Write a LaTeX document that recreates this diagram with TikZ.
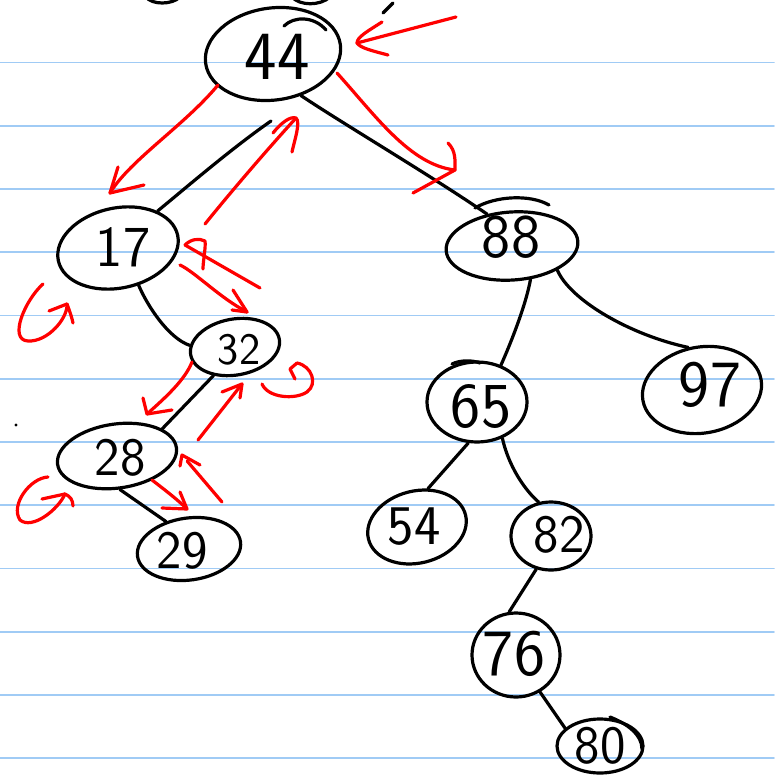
\documentclass[tikz,border=0pt]{standalone}
\usepackage{fontspec}
\usetikzlibrary{shapes.geometric}
\definecolor{ruled}{RGB}{160,203,245}
\definecolor{ink}{RGB}{0,0,0}
\definecolor{pen}{RGB}{255,0,0}
\begin{document}
\begin{tikzpicture}[x=1pt,y=-1pt,line cap=round,line join=round,
  tnode/.style={ellipse,draw=ink,line width=3.2pt,inner sep=0pt},
  digit/.style={font=\sffamily\fontsize{#1}{#1}\selectfont,inner sep=0pt},
  edge/.style={draw=ink,line width=3.2pt},
  redpen/.style={draw=pen,line width=3.2pt},
  rule/.style={draw=ruled,line width=1.8pt}]
\fill[white] (0,0) rectangle (774,776);
\useasboundingbox (0,0) rectangle (774,776);
\foreach \k in {0,...,11} \draw[rule] (0,{62.5+63.25*\k}) -- (774,{62.5+63.25*\k});

% tree nodes
\node[tnode,rotate=8,minimum width=136pt,minimum height=92pt] (n44) at (273,54) {};
\node[tnode,rotate=12,minimum width=122pt,minimum height=80pt] (n17) at (118,248) {};
\node[tnode,rotate=10,minimum width=90pt,minimum height=56pt] (n32) at (235,347) {};
\node[tnode,rotate=8,minimum width=120pt,minimum height=64pt] (n28) at (117,456) {};
\node[tnode,rotate=8,minimum width=104pt,minimum height=62pt] (n29) at (189,549) {};
\node[tnode,rotate=4,minimum width=132pt,minimum height=68pt] (n88) at (512,246) {};
\node[tnode,minimum width=100pt,minimum height=80pt] (n65) at (477,402) {};
\node[tnode,rotate=10,minimum width=120pt,minimum height=86pt] (n97) at (702,390) {};
\node[tnode,rotate=14,minimum width=100pt,minimum height=72pt] (n54) at (417,527) {};
\node[tnode,minimum width=80pt,minimum height=68pt] (n82) at (551,536) {};
\node[tnode,minimum width=88pt,minimum height=84pt] (n76) at (516,655) {};
\node[tnode,minimum width=86pt,minimum height=54pt] (n80) at (600,746) {};

% overlapping pen strokes where the ovals were closed
\draw[edge] (284,26) .. controls (294,16) and (314,16) .. (326,30);
\draw[edge] (475,208) .. controls (495,196) and (530,194) .. (549,205);
\draw[edge] (452,364) .. controls (460,360) and (472,360) .. (480,363);
\draw[edge] (610,717) .. controls (628,724) and (642,735) .. (642,749);

% digits
\node[digit=69] (t44) at (277,57) {44};
\node[digit=58] (t17) at (123,247) {17};
\node[digit=45] (t32) at (239,350) {32};
\node[digit=54] (t28) at (120,458) {28};
\node[digit=54] (t29) at (182,551) {29};
\node[digit=62] (t88) at (511,237) {88};
\node[digit=64] (t65) at (481,407) {65};
\node[digit=66] (t97) at (710,385) {97};
\node[digit=56] (t54) at (414,527) {54};
\node[digit=54] (t82) at (559,535) {82};
\node[digit=66] (t76) at (514,654) {76};
\node[digit=54] (t80) at (600,746) {80};

% black edges
\coordinate (e17s) at (271,121);
\draw[edge] (n44.-64) .. controls (345,125) and (430,175) .. (n88.124);
\draw[edge] (e17s) .. controls (235,146) and (195,180) .. (n17.31);
\draw[edge] (n17.-73) .. controls (147,305) and (168,338) .. (n32.168);
\draw[edge] (n32.-137) -- (n28.23);
\draw[edge] (n28.-93) -- (n29.122);
\draw[edge] (n88.-65) .. controls (526,305) and (510,345) .. (n65.57);
\draw[edge] (n88.-32) .. controls (570,300) and (630,335) .. (n97.98);
\draw[edge] (n65.-102) -- (n54.60);
\draw[edge] (n65.-55) .. controls (510,472) and (530,495) .. (n82.110);
\draw[edge] (n82.-114) -- (n76.99);
\draw[edge] (n76.-57) -- (n80.153);

% stray ink
\fill[ink] (16,425) circle (1.6pt);
\draw[edge] (383,13) -- (393,3);
\draw[edge] (146,-3) .. controls (152,5) and (172,5) .. (180,-3);
\draw[edge] (292,-3) .. controls (300,6) and (320,6) .. (330,-3);

% red traversal arrows
\coordinate (a1s) at (456,17);  \coordinate (a1t) at (357,43);
\draw[redpen] (a1s) -- (a1t);
\draw[redpen] (a1t) ++(25,-21) .. controls +(-14,9) and +(0,-6) .. (a1t) .. controls +(3,5) and +(-15,-4) .. +(31,12);

\coordinate (a2s) at (218,85);  \coordinate (a2t) at (110,193);
\draw[redpen] (a2s) .. controls (185,125) and (130,160) .. (a2t);
\draw[redpen] (a2t) ++(8,-26) -- (a2t) -- +(34,-8);

\coordinate (a3s) at (205,224); \coordinate (a3t) at (296,118);
\draw[redpen] (a3s) .. controls (230,193) and (265,152) .. (a3t);
\draw[redpen] (a3t) ++(-23,15) .. controls +(8,-10) and +(-6,-2) .. (a3t) .. controls +(5,4) and +(2,-10) .. +(-4,34);

\coordinate (a4s) at (337,73);  \coordinate (a4t) at (455,170);
\draw[redpen] (a4s) .. controls (375,115) and (410,165) .. (a4t);
\draw[redpen] (a4t) ++(-7,-27) .. controls +(8,8) and +(0,-10) .. (a4t) -- +(-42,23);

\coordinate (a5s) at (260,288); \coordinate (a5t) at (185,245);
\draw[redpen] (a5s) -- (a5t);
\draw[redpen] (a5t) .. controls +(6,-6) and +(-6,-3) .. ++(20,-4) .. controls +(1,6) and +(0,-8) .. +(-2,28);

\coordinate (a6s) at (180,265); \coordinate (a6t) at (247,312);
\draw[redpen] (a6s) .. controls (195,272) and (220,298) .. (a6t);
\draw[redpen] (a6t) ++(-14,-22) -- (a6t) -- +(-15,-2);

\coordinate (a7s) at (43,284);  \coordinate (a7t) at (67,304);
\draw[redpen] (a7s) .. controls (25,300) and (8,340) .. (28,341) .. controls (48,342) and (68,318) .. (a7t) .. controls (70,312) and (72,318) .. (73,323);
\draw[redpen] (a7t) -- +(-18,7);

\coordinate (a8s) at (192,362); \coordinate (a8t) at (147,414);
\draw[redpen] (a8s) .. controls (185,380) and (165,398) .. (a8t);
\draw[redpen] (a8t) ++(-4,-16) -- (a8t) -- +(25,-4);

\coordinate (a9s) at (198,440); \coordinate (a9t) at (242,384);
\draw[redpen] (a9s) -- (a9t);
\draw[redpen] (a9t) ++(-20,8) -- (a9t) -- +(-2,14);

\coordinate (a10s) at (262,384); \coordinate (a10t) at (297,363);
\draw[redpen] (a10s) .. controls (268,398) and (295,400) .. (307,392) .. controls (318,384) and (312,366) .. (a10t);
\draw[redpen] (a10t) -- +(-7,6) -- +(-2,16);

\coordinate (a11s) at (48,477); \coordinate (a11t) at (65,494);
\draw[redpen] (a11s) .. controls (30,478) and (10,505) .. (20,520) .. controls (32,530) and (58,510) .. (a11t) .. controls (70,496) and (73,500) .. (73,506);
\draw[redpen] (a11t) -- +(-23,5);

\coordinate (a12s) at (152,480); \coordinate (a12t) at (187,509);
\draw[redpen] (a12s) .. controls (165,490) and (178,500) .. (a12t);
\draw[redpen] (a12t) ++(-7,-17) -- (a12t) -- +(-25,-1);

\coordinate (a13s) at (222,502); \coordinate (a13t) at (182,455);
\draw[redpen,shorten >=8pt] (a13s) -- (a13t);
\draw[redpen] (a13t) ++(-2,11) -- (a13t) -- +(18,10);
\end{tikzpicture}
\end{document}
